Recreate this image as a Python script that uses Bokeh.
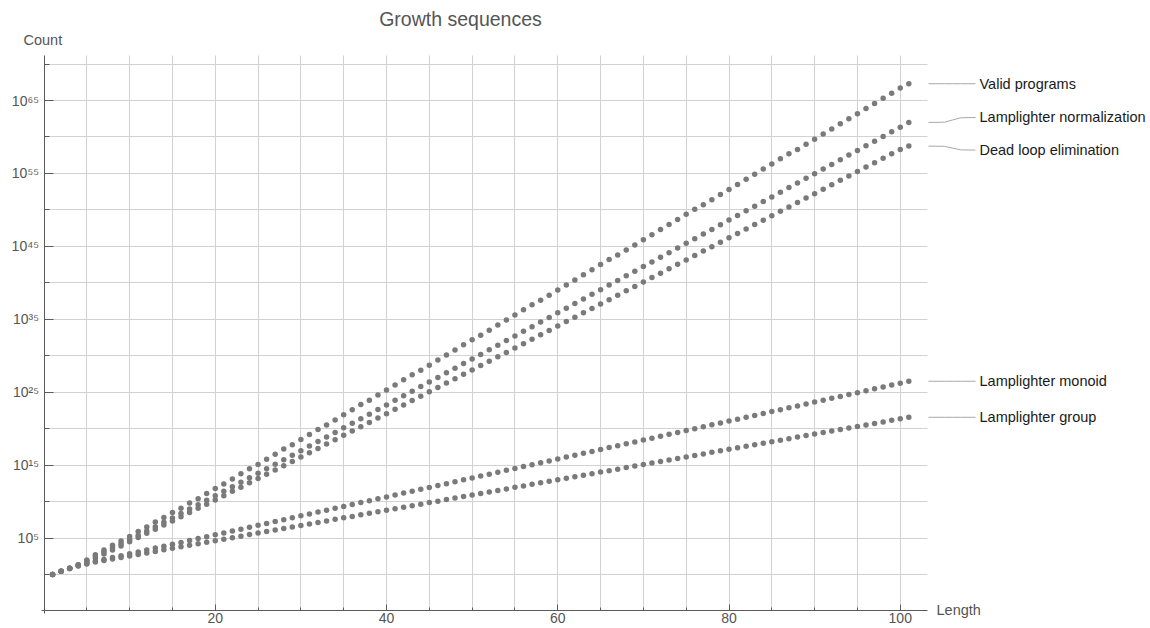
from bokeh.plotting import figure
from bokeh.models import (Range1d, FixedTicker, CustomJSTickFormatter, Label,
                          BoxAnnotation, ColumnDataSource)
from bokeh.embed import file_html
from bokeh.resources import INLINE

# ---------------- data (log10 of counts) ----------------
lengths = list(range(1, 102))

valid_programs_log10 = [
    0.0, 0.45, 0.85, 1.35, 2.0, 2.7, 3.35, 4.0, 4.6, 5.2,
    5.9, 6.5, 7.2, 7.8, 8.5, 9.1, 9.8, 10.4, 11.1, 11.8,
    12.4, 13.1, 13.8, 14.5, 15.1, 15.8, 16.5, 17.2, 17.8, 18.5,
    19.2, 19.9, 20.5, 21.2, 21.9, 22.6, 23.3, 23.9, 24.6, 25.3,
    26.0, 26.7, 27.4, 28.0, 28.7, 29.4, 30.1, 30.8, 31.5, 32.2,
    32.8, 33.5, 34.2, 34.9, 35.6, 36.3, 37.0, 37.6, 38.3, 39.0,
    39.7, 40.4, 41.1, 41.8, 42.5, 43.2, 43.8, 44.5, 45.2, 45.9,
    46.6, 47.3, 48.0, 48.7, 49.4, 50.1, 50.7, 51.4, 52.1, 52.8,
    53.5, 54.2, 54.9, 55.6, 56.3, 57.0, 57.7, 58.3, 59.0, 59.7,
    60.4, 61.1, 61.8, 62.5, 63.2, 63.9, 64.6, 65.3, 66.0, 66.7,
    67.3]

lamplighter_normalization_log10 = [
    0.0, 0.45, 0.85, 1.3, 1.9, 2.55, 3.1, 3.66, 4.22, 4.8,
    5.38, 5.97, 6.56, 7.16, 7.76, 8.36, 8.97, 9.58, 10.19, 10.8,
    11.41, 12.03, 12.64, 13.26, 13.88, 14.5, 15.12, 15.74, 16.36, 16.98,
    17.61, 18.23, 18.86, 19.48, 20.11, 20.74, 21.36, 21.99, 22.62, 23.25,
    23.88, 24.51, 25.14, 25.77, 26.4, 27.03, 27.66, 28.29, 28.92, 29.55,
    30.18, 30.82, 31.45, 32.08, 32.72, 33.35, 33.98, 34.62, 35.25, 35.88,
    36.52, 37.15, 37.79, 38.42, 39.06, 39.69, 40.33, 40.96, 41.6, 42.23,
    42.87, 43.5, 44.14, 44.78, 45.41, 46.05, 46.69, 47.32, 47.96, 48.6,
    49.23, 49.87, 50.51, 51.14, 51.78, 52.42, 53.06, 53.69, 54.33, 54.97,
    55.61, 56.24, 56.88, 57.52, 58.16, 58.8, 59.43, 60.07, 60.71, 61.35,
    61.99]

dead_loop_elimination_log10 = [
    0.0, 0.45, 0.85, 1.3, 1.75, 2.25, 2.8, 3.36, 3.92, 4.5,
    5.08, 5.65, 6.21, 6.78, 7.35, 7.91, 8.49, 9.07, 9.65, 10.23,
    10.81, 11.4, 11.98, 12.57, 13.16, 13.74, 14.33, 14.92, 15.51, 16.1,
    16.7, 17.29, 17.89, 18.48, 19.08, 19.67, 20.26, 20.86, 21.46, 22.06,
    22.66, 23.26, 23.86, 24.46, 25.06, 25.65, 26.25, 26.85, 27.45, 28.05,
    28.65, 29.26, 29.86, 30.46, 31.07, 31.66, 32.26, 32.87, 33.47, 34.07,
    34.68, 35.28, 35.89, 36.49, 37.1, 37.69, 38.3, 38.9, 39.51, 40.11,
    40.72, 41.32, 41.93, 42.54, 43.14, 43.74, 44.35, 44.95, 45.56, 46.17,
    46.77, 47.38, 47.99, 48.59, 49.2, 49.8, 50.41, 51.01, 51.62, 52.23,
    52.84, 53.44, 54.05, 54.66, 55.27, 55.87, 56.47, 57.08, 57.69, 58.3,
    58.75]

lamplighter_monoid_log10 = [
    0.0, 0.45, 0.85, 1.2, 1.5, 1.8, 2.06, 2.32, 2.58, 2.84,
    3.1, 3.36, 3.62, 3.88, 4.14, 4.4, 4.66, 4.92, 5.18, 5.44,
    5.7, 5.96, 6.22, 6.48, 6.74, 7.0, 7.26, 7.52, 7.78, 8.04,
    8.3, 8.56, 8.82, 9.08, 9.34, 9.6, 9.86, 10.12, 10.38, 10.64,
    10.9, 11.16, 11.42, 11.68, 11.94, 12.2, 12.46, 12.72, 12.98, 13.24,
    13.5, 13.76, 14.02, 14.28, 14.54, 14.8, 15.06, 15.32, 15.58, 15.84,
    16.1, 16.36, 16.62, 16.88, 17.14, 17.4, 17.66, 17.92, 18.18, 18.44,
    18.7, 18.96, 19.22, 19.48, 19.74, 20.0, 20.26, 20.52, 20.78, 21.04,
    21.3, 21.56, 21.82, 22.08, 22.34, 22.6, 22.86, 23.12, 23.38, 23.64,
    23.9, 24.16, 24.42, 24.68, 24.94, 25.2, 25.46, 25.72, 25.98, 26.24,
    26.5]

lamplighter_group_log10 = [
    0.0, 0.45, 0.8, 1.15, 1.45, 1.7, 1.91, 2.12, 2.33, 2.54,
    2.75, 2.96, 3.17, 3.38, 3.59, 3.79, 4.0, 4.21, 4.42, 4.63,
    4.84, 5.05, 5.26, 5.47, 5.68, 5.88, 6.09, 6.3, 6.51, 6.72,
    6.93, 7.14, 7.35, 7.56, 7.77, 7.97, 8.18, 8.39, 8.6, 8.81,
    9.02, 9.23, 9.44, 9.65, 9.86, 10.06, 10.27, 10.48, 10.69, 10.9,
    11.11, 11.32, 11.53, 11.74, 11.95, 12.15, 12.36, 12.57, 12.78, 12.99,
    13.2, 13.41, 13.62, 13.83, 14.04, 14.24, 14.45, 14.66, 14.87, 15.08,
    15.29, 15.5, 15.71, 15.92, 16.13, 16.33, 16.54, 16.75, 16.96, 17.17,
    17.38, 17.59, 17.8, 18.01, 18.22, 18.42, 18.63, 18.84, 19.05, 19.26,
    19.47, 19.68, 19.89, 20.1, 20.31, 20.51, 20.72, 20.93, 21.14, 21.35,
    21.56]

series_names = ["Valid programs", "Lamplighter normalization",
                "Dead loop elimination", "Lamplighter monoid", "Lamplighter group"]
series_log10 = [valid_programs_log10, lamplighter_normalization_log10,
                dead_loop_elimination_log10, lamplighter_monoid_log10,
                lamplighter_group_log10]

x_tick_major = [20, 40, 60, 80, 100]
x_tick_minor = [5, 10, 15, 25, 30, 35, 45, 50, 55, 65, 70, 75, 85, 90, 95]
y_tick_major_exp = [5, 15, 25, 35, 45, 55, 65]
y_tick_minor_exp = [0, 10, 20, 30, 40, 50, 60, 70]

title_text = "Growth sequences"
x_axis_name = "Length"
y_axis_name = "Count"

# ---------------- layout / style ----------------
W, H = 1150, 628
PX_X0 = 43.5           # page x of Length = 0
PX_PER_X = 8.5625      # px per length unit
PX_Y0 = 574.0          # page y of 10^0
PX_PER_DEC = 7.292     # px per decade
FONT = "Liberation Sans"
DOT = "#7a7a7a"
AXIS = "#5a5a5a"
GRID = "#d2d2d2"
TEXT_GRAY = "#555555"


def xd(px):   # page x -> data
    return (px - PX_X0) / PX_PER_X


def ye(py):   # page y -> log10 exponent
    return (PX_Y0 - py) / PX_PER_DEC


x_axis_y = 10 ** ye(609.5)
y_axis_top = 10 ** ye(55)
x_axis_right = xd(927)

p = figure(width=W, height=H, y_axis_type="log",
           x_range=Range1d(xd(0), xd(W)),
           y_range=Range1d(10 ** ye(H), 10 ** ye(0)),
           output_backend="svg", toolbar_location=None,
           min_border=0, min_border_left=0, min_border_right=0,
           min_border_top=0, min_border_bottom=0)
p.outline_line_color = None
p.background_fill_color = "white"
p.border_fill_color = "white"

# tickers
xt = FixedTicker(ticks=x_tick_major, minor_ticks=x_tick_minor)
p.xaxis.ticker = xt
p.xgrid.ticker = xt
yt = FixedTicker(ticks=[10.0 ** e for e in y_tick_major_exp],
                 minor_ticks=[10.0 ** e for e in y_tick_minor_exp])
p.yaxis.ticker = yt
p.ygrid.ticker = yt
p.yaxis.formatter = CustomJSTickFormatter(code="""
const e = Math.round(Math.log10(tick));
const sup = ["\\u2070","\\u00b9","\\u00b2","\\u00b3","\\u2074","\\u2075","\\u2076","\\u2077","\\u2078","\\u2079"];
let s = "";
for (const c of String(e)) { s += (c == "-") ? "\\u207b" : sup[parseInt(c)]; }
return "10" + s;
""")

# axes placed inside the (full-canvas) frame
p.xaxis.fixed_location = x_axis_y
p.yaxis.fixed_location = 0
p.xaxis.bounds = (xd(41), x_axis_right)
p.yaxis.bounds = (10 ** ye(613), y_axis_top)

for ax, tin, tmin in ((p.xaxis, 6, 3), (p.yaxis, 9, 5)):
    ax.axis_line_color = AXIS
    ax.axis_line_width = 1
    ax.major_tick_line_color = AXIS
    ax.minor_tick_line_color = AXIS
    ax.major_tick_in = tin
    ax.major_tick_out = 0
    ax.minor_tick_in = tmin
    ax.minor_tick_out = 0
    ax.major_label_text_font = FONT
    ax.major_label_text_font_size = "14px"
    ax.major_label_text_color = TEXT_GRAY
p.xaxis.major_label_standoff = 3
p.yaxis.major_label_standoff = 5

for g in (p.xgrid, p.ygrid):
    g.grid_line_color = GRID
    g.minor_grid_line_color = GRID
    g.grid_line_width = 1
    g.level = "image"

# white masks so the grid stays inside the axes box
for kw in (dict(right=0), dict(left=x_axis_right),
           dict(bottom=y_axis_top), dict(top=x_axis_y)):
    p.add_layout(BoxAnnotation(fill_color="white", fill_alpha=1.0,
                               line_alpha=0, level="underlay", **kw))

# ---------------- points ----------------
src = {"length": lengths}
for i, vals in enumerate(series_log10):
    src[f"s{i}"] = [10.0 ** v for v in vals]
source = ColumnDataSource(src)
for i in range(len(series_log10)):
    p.scatter("length", f"s{i}", source=source, size=5.5, color=DOT, line_width=0)

# ---------------- callout lines and labels ----------------
label_shift_px = [0, 5, -4, 0, 0]
line_px = [928, 944, 952, 960, 975]
line_frac = [0.0, 0.06, 0.5, 0.94, 1.0]
line_x = [xd(v) for v in line_px]
for name, vals, shift in zip(series_names, series_log10, label_shift_px):
    last = vals[-1]
    end = last + shift / PX_PER_DEC
    ys = [10.0 ** (last + f * (end - last)) for f in line_frac]
    p.line(line_x, ys, line_color="#a8a8a8", line_width=1)
    p.add_layout(Label(x=xd(979), y=10.0 ** last, y_offset=shift, text=name,
                       text_font=FONT, text_font_size="14.5px", text_color="#1a1a1a",
                       text_baseline="middle", text_align="left"))

p.add_layout(Label(x=xd(460), y=10.0 ** ye(18.5), text=title_text,
                   text_font=FONT, text_font_size="19.5px", text_color=TEXT_GRAY,
                   text_align="center", text_baseline="middle"))
p.add_layout(Label(x=xd(23), y=10.0 ** ye(39.5), text=y_axis_name,
                   text_font=FONT, text_font_size="14.5px", text_color=TEXT_GRAY,
                   text_align="left", text_baseline="middle"))
p.add_layout(Label(x=xd(936), y=10.0 ** ye(609), text=x_axis_name,
                   text_font=FONT, text_font_size="14.5px", text_color=TEXT_GRAY,
                   text_align="left", text_baseline="middle"))

open("out.html", "w", encoding="utf-8").write(file_html(p, INLINE))
